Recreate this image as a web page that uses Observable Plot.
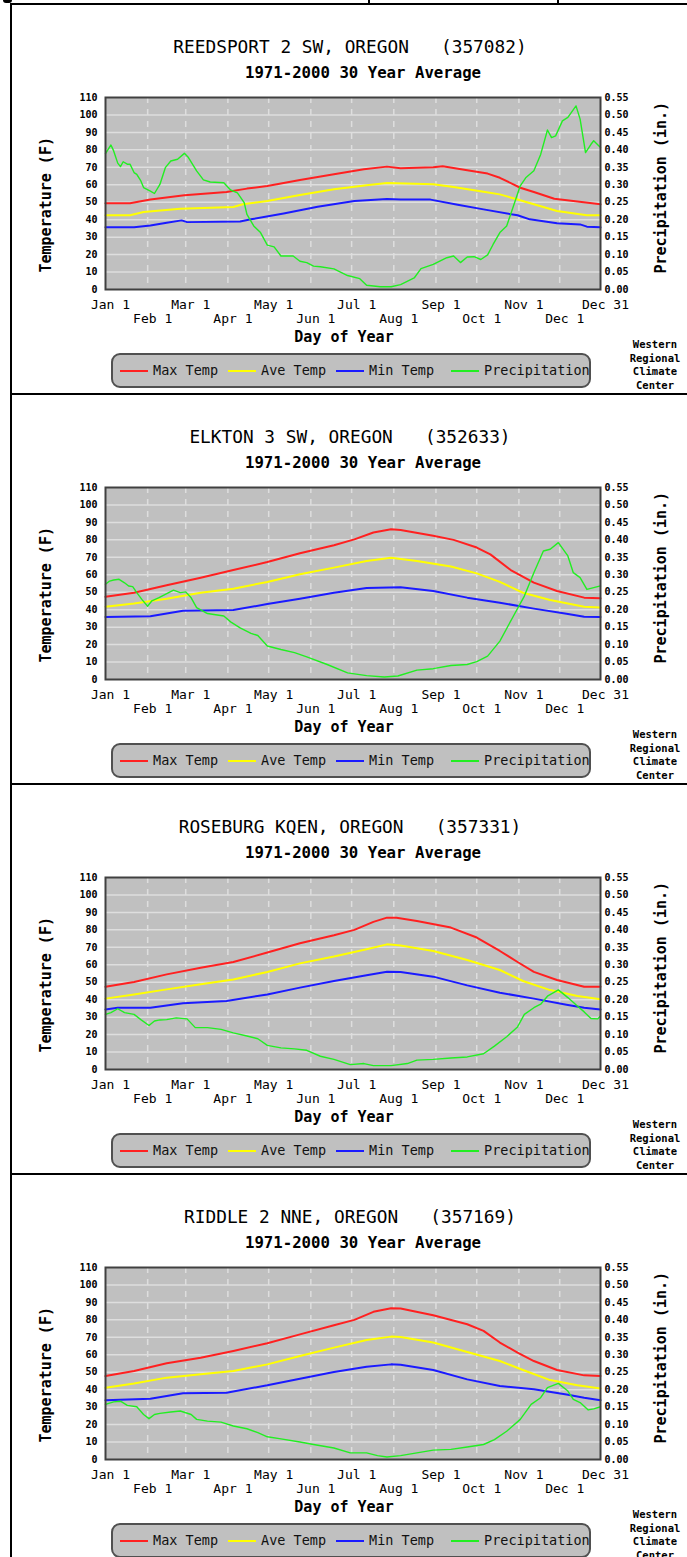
<!DOCTYPE html>
<html><head><meta charset="utf-8">
<script src="https://cdn.jsdelivr.net/npm/d3@7"></script>
<script src="https://cdn.jsdelivr.net/npm/@observablehq/plot@0.6"></script>
<style>
html,body{margin:0;padding:0;background:#fff;}
body{width:687px;height:1557px;overflow:hidden;position:relative;font-family:"DejaVu Sans Mono",monospace;color:#000;}
.vline{position:absolute;left:10px;top:3px;width:2px;height:1554px;background:#000;}
.tick{position:absolute;top:0;width:2px;height:4px;background:#000;}
.blob{position:absolute;left:3px;top:0;width:9px;height:3px;background:#000;border-radius:0 0 4px 4px;}
.panel{position:absolute;left:0;width:687px;height:390px;}
.hline{position:absolute;left:10px;top:0;width:677px;height:2px;background:#000;}
.title{position:absolute;left:0;width:700px;top:34px;text-align:center;font-size:17.8px;line-height:20px;white-space:pre;}
.subtitle{position:absolute;left:0;width:726px;top:61px;text-align:center;font-size:15.7px;line-height:18px;font-weight:bold;white-space:pre;}
.plotwrap{position:absolute;left:0;top:84px;}
.legend{position:absolute;left:111px;top:350px;width:476px;height:31px;border:2px solid #505050;border-radius:9px;background:#c0c0c0;}
.legend .ln{position:absolute;top:15px;height:2px;width:28px;}
.legend .lt{position:absolute;top:6px;font-size:13.5px;line-height:18px;white-space:pre;color:#111;}
.credit{position:absolute;left:620px;width:70px;top:335px;text-align:center;font-size:10.5px;line-height:13.5px;font-weight:bold;}
</style>
</head><body>
<div class="vline"></div>
<div class="blob"></div>
<div class="tick" style="left:368px"></div>
<div class="tick" style="left:557px"></div>
<script>
// ---- Data ----
const stationNames = ["REEDSPORT 2 SW, OREGON", "ELKTON 3 SW, OREGON", "ROSEBURG KQEN, OREGON", "RIDDLE 2 NNE, OREGON"];
const stationIds = ["(357082)", "(352633)", "(357331)", "(357169)"];
const periodLabel = "1971-2000 30 Year Average";

const seriesNames = ["Max Temp", "Ave Temp", "Min Temp", "Precipitation"];
const seriesColors = ["#ff2020", "#ffff00", "#1a1aff", "#22ee22"];

const tempTicks = [0, 10, 20, 30, 40, 50, 60, 70, 80, 90, 100, 110];
const precipTicks = [0.00, 0.05, 0.10, 0.15, 0.20, 0.25, 0.30, 0.35, 0.40, 0.45, 0.50, 0.55];
const monthDays = [0, 31, 59, 90, 120, 151, 181, 212, 243, 273, 304, 334, 364];
const monthLabels = ["Jan 1", "Feb 1", "Mar 1", "Apr 1", "May 1", "Jun 1", "Jul 1", "Aug 1", "Sep 1", "Oct 1", "Nov 1", "Dec 1", "Dec 31"];

// [day of year (0 = Jan 1), value]
const reedsportMax = [[0,49.4],[18,49.4],[33,51.6],[58,54],[89,55.9],[104,57.8],[119,59.3],[143,62.7],[168,66],[190,68.9],[207,70.4],[217,69.5],[241,70],[248,70.6],[266,68.3],[281,66.4],[290,64],[305,58.3],[315,55.9],[330,52],[344,50.7],[364,48.8]];
const reedsportAve = [[0,42.5],[18,42.5],[28,44.4],[55,46.3],[94,47.3],[101,48.8],[119,50.7],[143,54.1],[168,57.4],[192,59.7],[207,61],[241,60.3],[256,58.7],[278,56],[290,54.5],[303,51.6],[315,48.8],[332,45],[354,42.5],[364,42.5]];
const reedsportMin = [[0,35.6],[21,35.6],[33,36.7],[45,38.3],[56,39.6],[60,38.6],[99,39],[107,40.2],[131,43.6],[156,47.4],[183,50.7],[207,51.8],[217,51.6],[239,51.5],[259,48.6],[278,45.9],[303,42.5],[312,40.2],[332,37.9],[349,37.3],[354,36],[364,35.6]];
const reedsportPrecip = [[0,0.389],[4,0.414],[6,0.397],[9,0.362],[11,0.352],[13,0.366],[16,0.359],[18,0.359],[21,0.335],[23,0.330],[26,0.311],[28,0.292],[33,0.282],[36,0.275],[40,0.301],[44,0.349],[48,0.368],[53,0.373],[58,0.390],[61,0.378],[67,0.340],[72,0.314],[77,0.308],[87,0.306],[92,0.285],[97,0.277],[102,0.249],[104,0.215],[109,0.182],[114,0.163],[119,0.127],[124,0.122],[129,0.096],[138,0.096],[143,0.081],[148,0.077],[153,0.067],[158,0.065],[168,0.059],[178,0.040],[187,0.031],[192,0.012],[202,0.008],[210,0.008],[217,0.014],[227,0.033],[232,0.060],[241,0.072],[251,0.091],[256,0.096],[261,0.077],[266,0.093],[271,0.094],[276,0.086],[281,0.099],[285,0.129],[290,0.163],[295,0.182],[300,0.239],[305,0.297],[309,0.320],[315,0.340],[320,0.387],[325,0.457],[328,0.435],[331,0.440],[336,0.483],[340,0.493],[346,0.526],[349,0.488],[353,0.392],[357,0.416],[359,0.426],[364,0.407]];

const elktonMax = [[0,47.4],[21,49.7],[45,54],[70,58.3],[94,62.7],[119,67.3],[143,72.3],[168,76.9],[183,80.3],[197,84.2],[210,86.1],[217,85.7],[241,82.3],[256,80],[273,75.6],[283,71.7],[298,62.7],[315,55.5],[332,50.7],[352,46.9],[364,46.5]];
const elktonAve = [[0,41.7],[21,43.6],[45,46.3],[70,49.7],[94,52],[119,55.9],[143,60.3],[168,64.1],[192,67.9],[210,69.8],[229,67.9],[254,64.7],[273,60.8],[290,55.9],[307,49.7],[327,45.5],[352,41.7],[364,41.3]];
const elktonMin = [[0,35.8],[33,36.3],[57,39.4],[94,39.8],[119,43.2],[143,46.3],[168,49.7],[192,52.4],[217,52.8],[241,50.7],[266,46.9],[290,44],[315,40.6],[339,37.7],[352,36],[364,35.8]];
const elktonPrecip = [[0,0.273],[3,0.282],[6,0.285],[10,0.287],[14,0.277],[17,0.268],[20,0.266],[23,0.249],[27,0.228],[31,0.210],[34,0.225],[39,0.234],[44,0.244],[50,0.256],[55,0.249],[59,0.251],[63,0.234],[67,0.206],[75,0.189],[87,0.182],[92,0.165],[99,0.148],[107,0.132],[112,0.126],[119,0.096],[129,0.086],[139,0.077],[148,0.065],[163,0.043],[178,0.019],[192,0.011],[205,0.007],[215,0.010],[229,0.027],[241,0.031],[254,0.040],[266,0.043],[273,0.051],[281,0.067],[290,0.110],[300,0.182],[308,0.239],[315,0.306],[322,0.368],[327,0.373],[333,0.392],[340,0.354],[344,0.306],[349,0.292],[354,0.258],[359,0.263],[364,0.268]];

const roseburgMax = [[0,47.4],[21,50.1],[45,54.5],[70,58.3],[94,61.6],[119,67],[143,72.3],[168,76.9],[183,80],[197,84.6],[207,87],[214,87],[229,85.1],[254,81.3],[273,75.6],[290,67.9],[303,61.6],[315,55.9],[332,51.3],[352,47.4],[364,47.4]];
const roseburgAve = [[0,40.6],[21,43],[45,45.9],[70,48.8],[94,51.6],[119,55.9],[143,60.8],[168,64.7],[192,68.9],[207,71.7],[217,71.1],[241,67.9],[266,62.7],[290,57],[307,50.7],[327,45.5],[347,42.1],[364,40.2]];
const roseburgMin = [[0,34.4],[9,35.4],[33,35.4],[57,37.9],[89,39.2],[119,43],[143,46.9],[168,50.7],[192,54],[207,56],[217,55.8],[241,53.2],[266,48.2],[290,44],[315,40.6],[339,37.1],[352,35.4],[364,34.4]];
const roseburgPrecip = [[0,0.158],[4,0.163],[9,0.174],[14,0.163],[21,0.158],[26,0.143],[32,0.126],[36,0.139],[40,0.142],[45,0.143],[52,0.148],[60,0.145],[66,0.120],[75,0.120],[85,0.115],[94,0.105],[104,0.096],[112,0.088],[119,0.069],[129,0.062],[139,0.059],[148,0.055],[158,0.038],[168,0.029],[180,0.014],[190,0.017],[197,0.011],[210,0.011],[222,0.017],[229,0.027],[241,0.029],[254,0.033],[266,0.036],[278,0.045],[286,0.067],[295,0.094],[303,0.122],[308,0.158],[315,0.177],[320,0.187],[325,0.210],[333,0.228],[340,0.206],[347,0.182],[352,0.165],[357,0.146],[362,0.145],[364,0.153]];

const riddleMax = [[0,47.8],[21,50.7],[45,55.1],[70,58.3],[94,62.2],[119,66.6],[143,71.7],[168,76.9],[183,80],[197,84.6],[210,86.7],[217,86.5],[241,82.6],[266,77.5],[278,73.7],[290,67],[303,61.2],[315,56.4],[332,51.3],[352,48.2],[364,47.8]];
const riddleAve = [[0,41.1],[21,43.6],[45,46.9],[70,48.8],[94,50.7],[119,54.5],[143,59.3],[168,64.1],[192,68.5],[210,70.4],[217,70.2],[241,67],[266,61.6],[290,56.4],[307,51.3],[327,45.5],[347,42.5],[364,40.7]];
const riddleMin = [[0,34],[33,34.8],[57,37.9],[89,38.3],[119,42.5],[143,46.3],[168,50.1],[192,53.2],[210,54.5],[217,54.3],[241,51.3],[266,45.9],[290,42.1],[315,40.2],[339,37.3],[352,35.4],[364,34]];
const riddlePrecip = [[0,0.158],[6,0.165],[11,0.167],[16,0.155],[23,0.151],[28,0.129],[32,0.117],[36,0.129],[40,0.132],[48,0.136],[55,0.139],[63,0.129],[67,0.115],[75,0.110],[85,0.107],[94,0.096],[104,0.088],[112,0.077],[119,0.065],[129,0.059],[143,0.050],[153,0.043],[168,0.033],[180,0.019],[192,0.019],[200,0.011],[207,0.007],[217,0.011],[229,0.019],[241,0.027],[254,0.029],[266,0.036],[278,0.043],[286,0.057],[295,0.081],[305,0.115],[313,0.158],[320,0.177],[325,0.206],[333,0.218],[340,0.196],[344,0.172],[349,0.163],[355,0.142],[359,0.145],[364,0.151]];

// ---- Build ----
const panels = [
  {max: reedsportMax, ave: reedsportAve, min: reedsportMin, precip: reedsportPrecip},
  {max: elktonMax, ave: elktonAve, min: elktonMin, precip: elktonPrecip},
  {max: roseburgMax, ave: roseburgAve, min: roseburgMin, precip: roseburgPrecip},
  {max: riddleMax, ave: riddleAve, min: riddleMin, precip: riddlePrecip}
];
const tempPerInch = tempTicks[tempTicks.length - 1] / precipTicks[precipTicks.length - 1]; // 110 / 0.55
const labelOf = d => monthLabels[monthDays.indexOf(d)];
const row1 = monthDays.filter((d, i) => i % 2 === 0);
const row2 = monthDays.filter((d, i) => i % 2 === 1);

function makePlot(p) {
  const font = "DejaVu Sans Mono, monospace";
  return Plot.plot({
    width: 687, height: 262,
    marginTop: 10, marginBottom: 60, marginLeft: 105, marginRight: 87,
    style: {background: "transparent", fontFamily: font, color: "#000", overflow: "visible"},
    x: {domain: [0, 364]},
    y: {domain: [0, 110]},
    marks: [
      Plot.frame({fill: "#c0c0c0"}),
      Plot.ruleY(tempTicks.slice(1, -1), {stroke: "#dedede", strokeWidth: 1.5}),
      Plot.ruleX(monthDays.slice(1, -1), {stroke: "#dedede", strokeWidth: 1.5, strokeDasharray: "6,6"}),
      Plot.line(p.max, {x: d => d[0], y: d => d[1], stroke: seriesColors[0], strokeWidth: 2}),
      Plot.line(p.ave, {x: d => d[0], y: d => d[1], stroke: seriesColors[1], strokeWidth: 2}),
      Plot.line(p.min, {x: d => d[0], y: d => d[1], stroke: seriesColors[2], strokeWidth: 2}),
      Plot.line(p.precip, {x: d => d[0], y: d => d[1] * tempPerInch, stroke: seriesColors[3], strokeWidth: 1.4}),
      Plot.frame({stroke: "#404040", strokeWidth: 2}),
      Plot.axisY({anchor: "left", ticks: tempTicks, tickSize: 0, tickPadding: 8, label: null, fontSize: 10, fontWeight: "bold"}),
      Plot.axisY({anchor: "right", ticks: tempTicks, tickFormat: d => precipTicks[tempTicks.indexOf(d)].toFixed(2), tickSize: 0, tickPadding: 4, label: null, fontSize: 10, fontWeight: "bold"}),
      Plot.axisX({anchor: "bottom", ticks: row1, tickFormat: labelOf, tickSize: 0, tickPadding: 10, label: null, fontSize: 13, dx: 5}),
      Plot.axisX({anchor: "bottom", ticks: row2, tickFormat: labelOf, tickSize: 0, tickPadding: 24, label: null, fontSize: 13, dx: 5}),
      Plot.text(["Day of Year"], {text: d => d, frameAnchor: "bottom", lineAnchor: "middle", dx: -9, dy: 48, fontSize: 15, fontWeight: "bold"}),
      Plot.text(["Temperature (F)"], {text: d => d, frameAnchor: "bottom-left", lineAnchor: "middle", dx: -59, dy: -17, rotate: -90, textAnchor: "start", fontSize: 15, fontWeight: "bold"}),
      Plot.text(["Precipitation (in.)"], {text: d => d, frameAnchor: "bottom-right", lineAnchor: "middle", dx: 61, dy: -16, rotate: -90, textAnchor: "start", fontSize: 15, fontWeight: "bold"})
    ]
  });
}

const legendLineX = [7, 115, 223, 338];
const legendTextX = [40, 148, 256, 371];

panels.forEach((p, k) => {
  const div = document.createElement("div");
  div.className = "panel";
  div.style.top = (3 + 390 * k) + "px";
  div.innerHTML = `<div class="hline"></div>
    <div class="title">${stationNames[k]}   ${stationIds[k]}</div>
    <div class="subtitle">${periodLabel}</div>
    <div class="plotwrap"></div>
    <div class="legend">${seriesNames.map((n, i) =>
      `<div class="ln" style="left:${legendLineX[i]}px;background:${seriesColors[i]}"></div><div class="lt" style="left:${legendTextX[i]}px">${n}</div>`).join("")}</div>
    <div class="credit">Western<br>Regional<br>Climate<br>Center</div>`;
  div.querySelector(".plotwrap").appendChild(makePlot(p));
  document.body.appendChild(div);
});
</script>
</body></html>
